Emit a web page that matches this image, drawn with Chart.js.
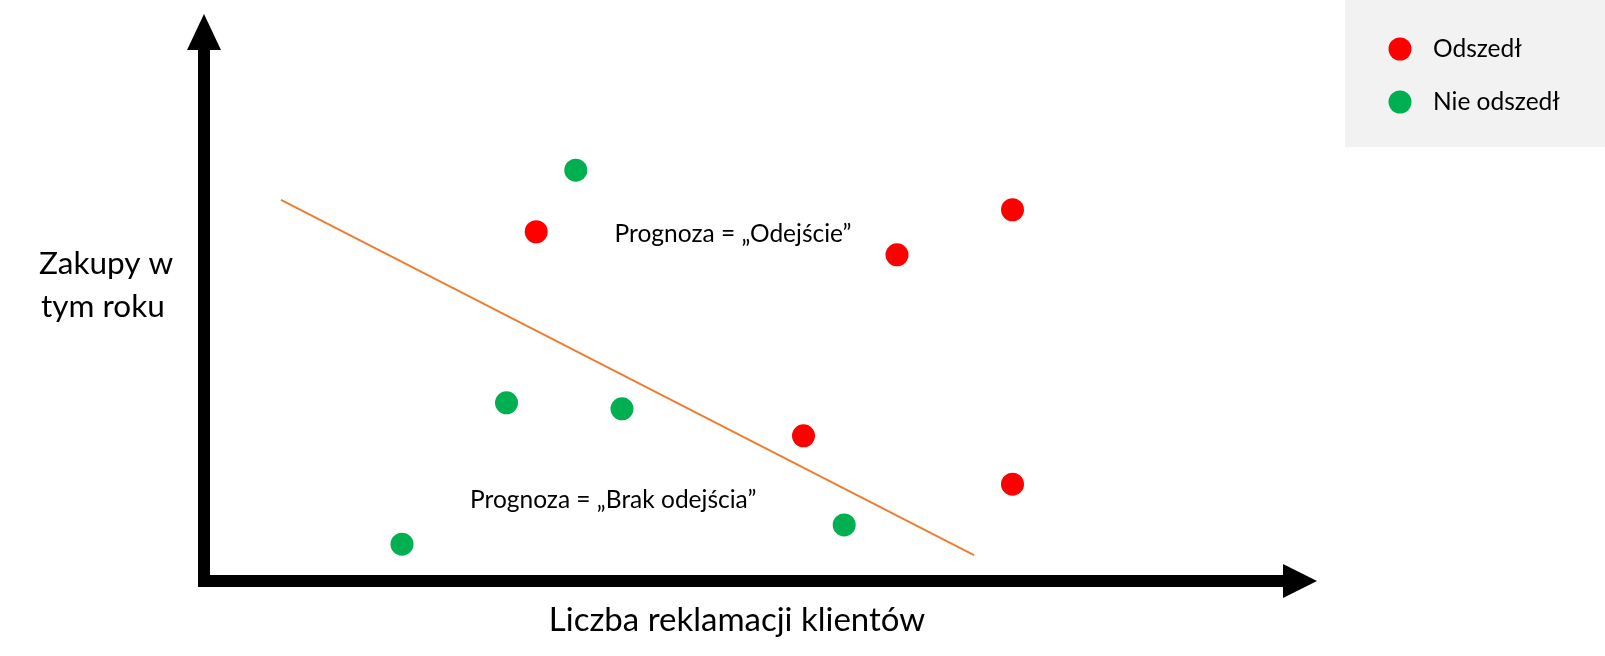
<!DOCTYPE html>
<html>
<head>
<meta charset="utf-8">
<script src="https://cdn.jsdelivr.net/npm/chart.js@4"></script>
<style>
  html, body { margin: 0; padding: 0; background: #fff; }
  #wrap { width: 1605px; height: 656px; position: relative; }
</style>
</head>
<body>
<div id="wrap"><canvas id="chart"></canvas></div>
<script>
  // values (no units on the axes, 0..100 scale)
  const leftX = [30.2, 63, 73.5, 54.5, 73.5];
  const leftY = [63.5, 59.3, 67.5, 26.4, 17.6];
  const stayX = [33.8, 27.5, 38, 58.2, 18];
  const stayY = [74.7, 32.4, 31.3, 10.2, 6.7];
  const lineX = [7, 70];
  const lineY = [69.3, 4.7];

  const seriesNames = ["Odszedł", "Nie odszedł"];
  const axisTitles = ["Liczba reklamacji klientów", "Zakupy w", "tym roku"];
  const regionNotes = [
    { text: "Prognoza = „Odejście”", x: 48.1, y: 63 },
    { text: "Prognoza = „Brak odejścia”", x: 37.2, y: 14.8 }
  ];

  const RED = '#ff0000';
  const GREEN = '#00b050';
  const FONT = 'Lato, "Open Sans", sans-serif';

  function pts(xs, ys) {
    return xs.map(function (x, i) { return { x: x, y: ys[i] }; });
  }

  // axes with arrow heads, titles, notes and legend box
  const decor = {
    id: 'decor',
    beforeDatasetsDraw(chart) {
      const ctx = chart.ctx;
      const a = chart.chartArea;
      ctx.save();
      ctx.fillStyle = '#000';
      // y axis
      ctx.fillRect(a.left - 6, 50, 12, a.bottom + 6 - 50);
      ctx.beginPath();
      ctx.moveTo(a.left - 17, 50);
      ctx.lineTo(a.left, 14);
      ctx.lineTo(a.left + 17, 50);
      ctx.closePath();
      ctx.fill();
      // x axis
      ctx.fillRect(a.left - 6, a.bottom - 6, 1283 - a.left + 6, 12);
      ctx.beginPath();
      ctx.moveTo(1283, a.bottom - 17);
      ctx.lineTo(1317, a.bottom);
      ctx.lineTo(1283, a.bottom + 17);
      ctx.closePath();
      ctx.fill();

      ctx.fillStyle = '#000';
      ctx.textBaseline = 'middle';
      ctx.font = '33px ' + FONT;
      ctx.textAlign = 'center';
      ctx.fillText(axisTitles[0], 737, 620);
      ctx.font = '31.5px ' + FONT;
      ctx.textAlign = 'left';
      ctx.fillText(axisTitles[1], 39, 264);
      ctx.fillText(axisTitles[2], 41, 307);

      ctx.font = '24.5px ' + FONT;
      ctx.textAlign = 'center';
      const xs = chart.scales.x, ys = chart.scales.y;
      regionNotes.forEach(function (n) {
        ctx.fillText(n.text, xs.getPixelForValue(n.x), ys.getPixelForValue(n.y));
      });
      ctx.restore();
    },
    afterDraw(chart) {
      const ctx = chart.ctx;
      ctx.save();
      ctx.fillStyle = '#f2f2f2';
      ctx.fillRect(1345, 0, 260, 147);
      ctx.font = '24.5px ' + FONT;
      ctx.textAlign = 'left';
      ctx.textBaseline = 'middle';
      chart.data.datasets.forEach(function (ds, i) {
        if (ds.type === 'line') return;
        const y = 49 + i * 53;
        ctx.fillStyle = ds.backgroundColor;
        ctx.beginPath();
        ctx.arc(1400, y, 11.5, 0, Math.PI * 2);
        ctx.fill();
        ctx.fillStyle = '#000';
        ctx.fillText(ds.label, 1433, y);
      });
      ctx.restore();
    }
  };

  new Chart(document.getElementById('chart'), {
    type: 'scatter',
    data: {
      datasets: [
        {
          label: seriesNames[0],
          data: pts(leftX, leftY),
          backgroundColor: RED,
          borderWidth: 0,
          pointRadius: 11.5,
          pointHoverRadius: 11.5
        },
        {
          label: seriesNames[1],
          data: pts(stayX, stayY),
          backgroundColor: GREEN,
          borderWidth: 0,
          pointRadius: 11.5,
          pointHoverRadius: 11.5
        },
        {
          type: 'line',
          label: 'granica',
          data: pts(lineX, lineY),
          borderColor: '#ed7d31',
          borderWidth: 2,
          pointRadius: 0,
          fill: false
        }
      ]
    },
    options: {
      responsive: true,
      maintainAspectRatio: false,
      animation: false,
      layout: { padding: { left: 204, right: 301, top: 31, bottom: 75 } },
      scales: {
        x: { type: 'linear', min: 0, max: 100, display: false },
        y: { type: 'linear', min: 0, max: 100, display: false }
      },
      plugins: {
        legend: { display: false },
        tooltip: { enabled: false }
      }
    },
    plugins: [decor]
  });
</script>
</body>
</html>
